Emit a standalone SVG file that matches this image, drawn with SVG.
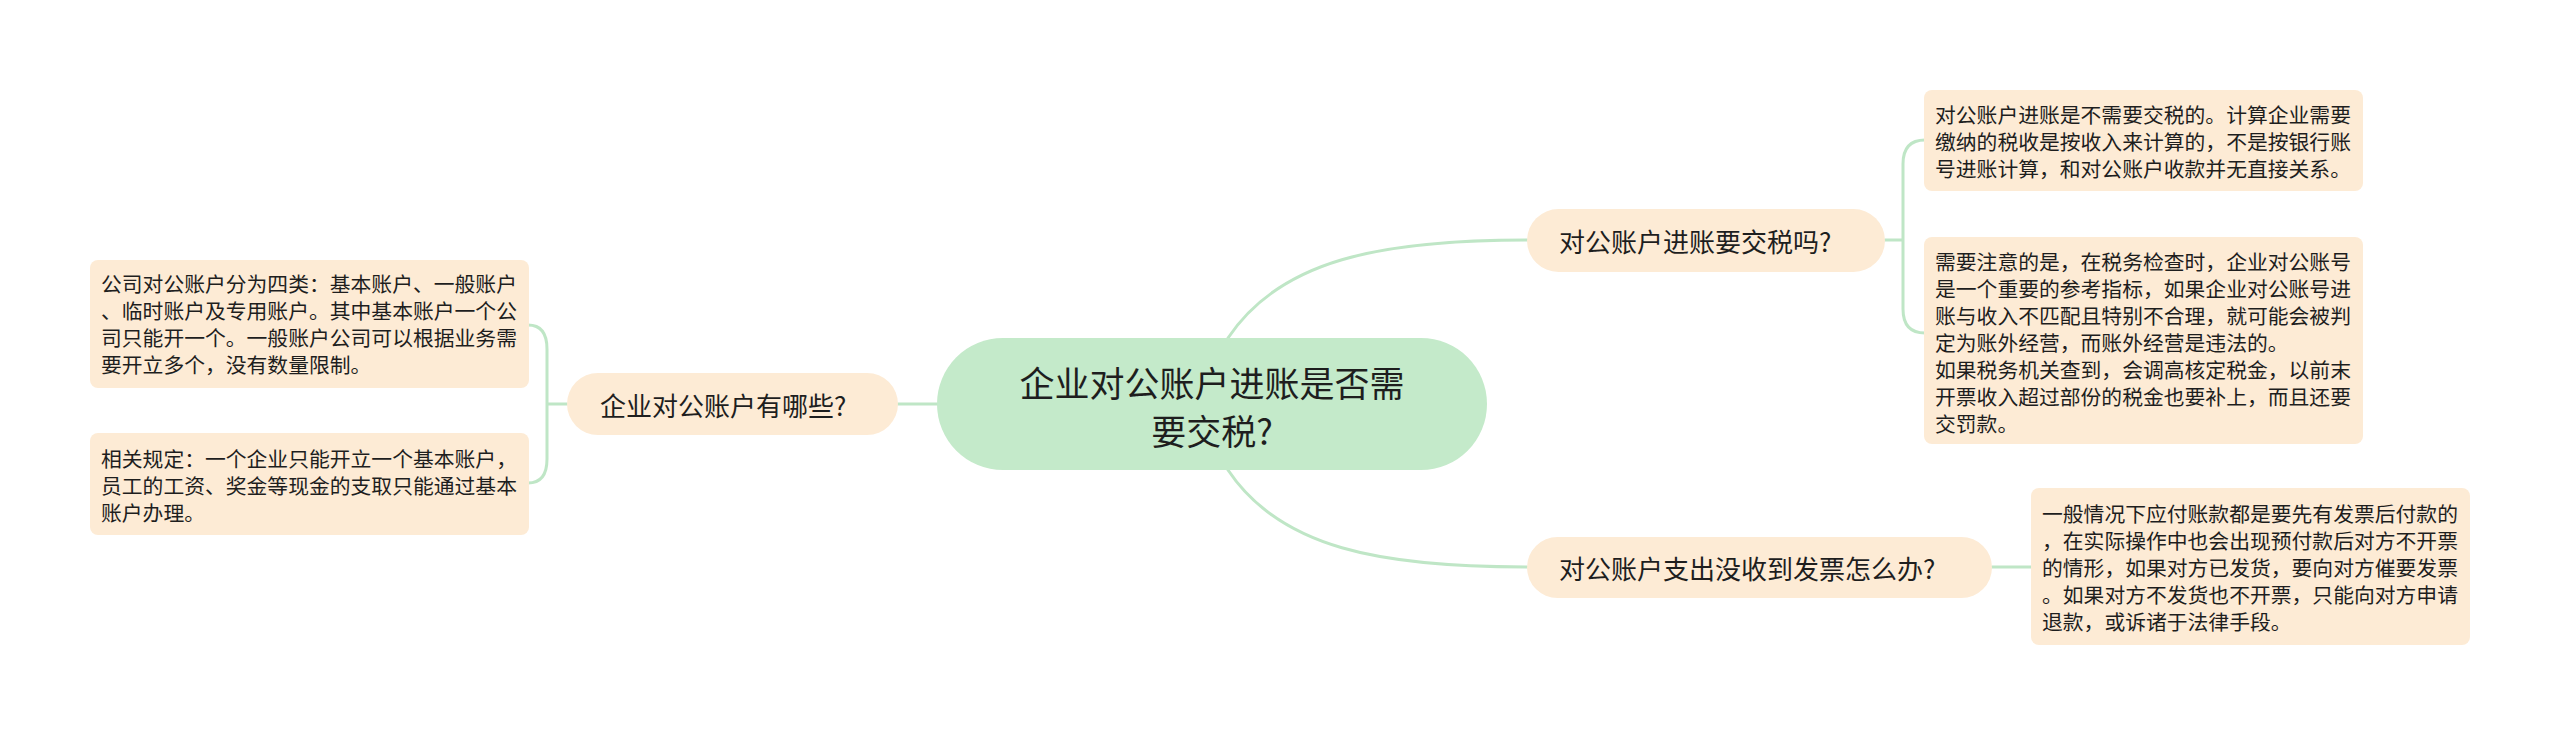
<svg xmlns="http://www.w3.org/2000/svg" width="2560" height="735" viewBox="0 0 2560 735">
<style>
.bg{fill:#ffffff}
.conn{fill:none;stroke:#bfe6c6;stroke-width:3;stroke-linecap:round}
.leaf{fill:#fdebd5}
.branch{fill:#fdebd5}
.root{fill:#c4eaca}
text{font-family:"Noto Sans CJK SC","Noto Sans",sans-serif;fill:#1e1e1e;dominant-baseline:central}
.lt{font-size:20.8px}
.bt{font-size:26px}
.rt{font-size:35px}
</style>
<rect class="bg" x="0" y="0" width="2560" height="735"/>
<g id="connectors">
<path class="conn" d="M1228,338 C1280,260 1380,240 1527,240"/>
<path class="conn" d="M1228,470 C1280,548 1380,567 1527,567"/>
<path class="conn" d="M898,404 L937,404"/>
<path class="conn" d="M1885,240 L1903,240 M1903,240 L1903,164 Q1903,140 1925,140 M1903,240 L1903,309 Q1903,333 1925,333"/>
<path class="conn" d="M1992,567 L2032,567"/>
<path class="conn" d="M567,404 L547,404 M547,404 L547,349 Q547,325 528,325 M547,404 L547,459 Q547,483 528,483"/>
</g>
<g id="root">
<rect class="root" x="937" y="338" width="550" height="132" rx="66"/>
<text class="rt" x="1212" y="381" text-anchor="middle">企业对公账户进账是否需</text>
<text class="rt" x="1212" y="429" text-anchor="middle">要交税?</text>
</g>
<g id="branch-1">
<rect class="branch" x="1527" y="209" width="358" height="63" rx="31.5"/>
<text class="bt" x="1559" y="240.5">对公账户进账要交税吗?</text>
</g>
<g id="branch-2">
<rect class="branch" x="1527" y="537" width="465" height="61" rx="30.5"/>
<text class="bt" x="1559" y="567.5">对公账户支出没收到发票怎么办?</text>
</g>
<g id="branch-left">
<rect class="branch" x="567" y="373" width="331" height="62" rx="31"/>
<text class="bt" x="600" y="404">企业对公账户有哪些?</text>
</g>
<g id="leaf-r1">
<rect class="leaf" x="1924" y="90" width="439" height="101" rx="8"/>
<text class="lt" x="1935" y="114">对公账户进账是不需要交税的。计算企业需要</text>
<text class="lt" x="1935" y="141">缴纳的税收是按收入来计算的，不是按银行账</text>
<text class="lt" x="1935" y="168">号进账计算，和对公账户收款并无直接关系。</text>
</g>
<g id="leaf-r2">
<rect class="leaf" x="1924" y="237" width="439" height="207" rx="8"/>
<text class="lt" x="1935" y="261">需要注意的是，在税务检查时，企业对公账号</text>
<text class="lt" x="1935" y="288">是一个重要的参考指标，如果企业对公账号进</text>
<text class="lt" x="1935" y="315">账与收入不匹配且特别不合理，就可能会被判</text>
<text class="lt" x="1935" y="342">定为账外经营，而账外经营是违法的。</text>
<text class="lt" x="1935" y="369">如果税务机关查到，会调高核定税金，以前末</text>
<text class="lt" x="1935" y="396">开票收入超过部份的税金也要补上，而且还要</text>
<text class="lt" x="1935" y="423">交罚款。</text>
</g>
<g id="leaf-r3">
<rect class="leaf" x="2031" y="488" width="439" height="157" rx="8"/>
<text class="lt" x="2042" y="512.5">一般情况下应付账款都是要先有发票后付款的</text>
<text class="lt" x="2042" y="539.5">，在实际操作中也会出现预付款后对方不开票</text>
<text class="lt" x="2042" y="566.5">的情形，如果对方已发货，要向对方催要发票</text>
<text class="lt" x="2042" y="593.5">。如果对方不发货也不开票，只能向对方申请</text>
<text class="lt" x="2042" y="620.5">退款，或诉诸于法律手段。</text>
</g>
<g id="leaf-l1">
<rect class="leaf" x="90" y="260" width="439" height="128" rx="8"/>
<text class="lt" x="101" y="283">公司对公账户分为四类：基本账户、一般账户</text>
<text class="lt" x="101" y="310">、临时账户及专用账户。其中基本账户一个公</text>
<text class="lt" x="101" y="337">司只能开一个。一般账户公司可以根据业务需</text>
<text class="lt" x="101" y="364">要开立多个，没有数量限制。</text>
</g>
<g id="leaf-l2">
<rect class="leaf" x="90" y="433" width="439" height="102" rx="8"/>
<text class="lt" x="101" y="458">相关规定：一个企业只能开立一个基本账户，</text>
<text class="lt" x="101" y="485">员工的工资、奖金等现金的支取只能通过基本</text>
<text class="lt" x="101" y="512">账户办理。</text>
</g>
</svg>
